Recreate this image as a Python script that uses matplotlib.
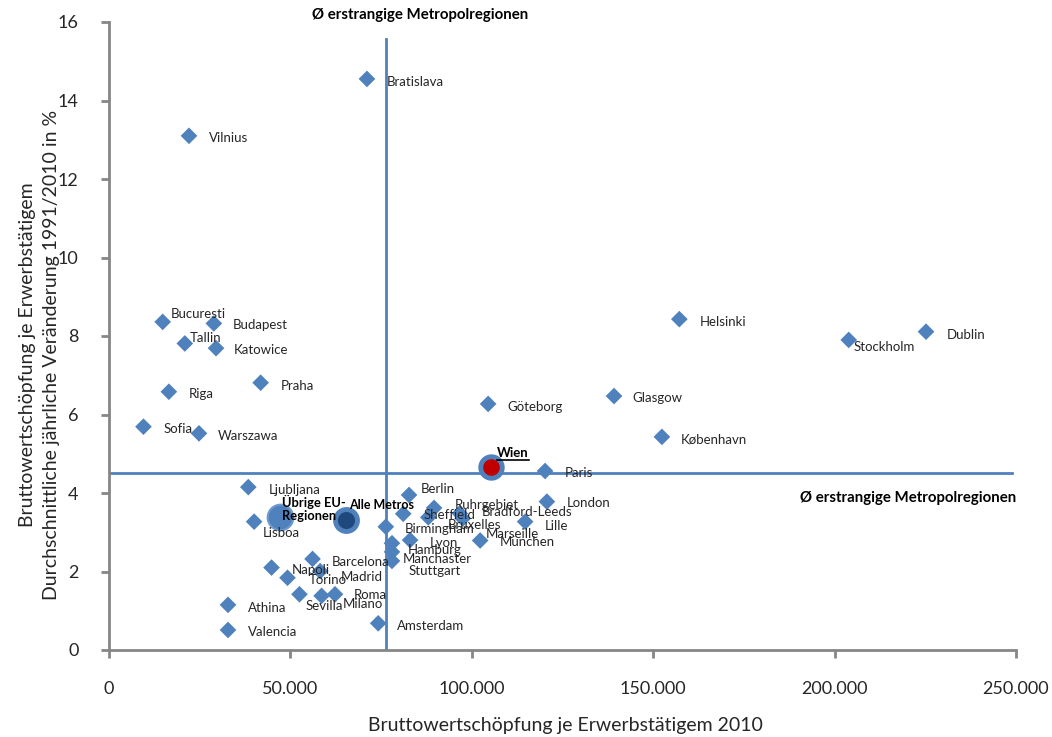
import matplotlib
matplotlib.use("Agg")
import matplotlib.pyplot as plt
from matplotlib.ticker import FuncFormatter
from matplotlib.lines import Line2D

# ---- data -------------------------------------------------------------
cities = [
    "Bratislava", "Vilnius", "Bucuresti", "Budapest", "Tallin", "Katowice",
    "Riga", "Praha", "Sofia", "Warszawa", "Helsinki", "Stockholm", "Dublin",
    "Glasgow", "København", "Göteborg", "Paris", "London", "Lille", "Berlin",
    "Ruhrgebiet", "Bradford-Leeds", "Sheffield", "Bruxelles", "Marseille",
    "München", "Birmingham", "Lyon", "Hamburg", "Manchaster", "Stuttgart",
    "Amsterdam", "Barcelona", "Napoli", "Torino", "Madrid", "Sevilla",
    "Milano", "Roma", "Athina", "Valencia", "Ljubljana", "Lisboa",
]
gva_2010 = [
    71100, 22050, 14800, 28900, 20900, 29500,
    16500, 41800, 9500, 24800, 157200, 203900, 225200,
    139200, 152400, 104500, 120200, 120700, 114700, 82700,
    89600, 96700, 81100, 88000, 97500,
    102300, 76300, 83000, 78000, 78000, 78000,
    74200, 56100, 44800, 49200, 58200, 52500,
    58600, 62300, 32800, 32800, 38400, 40000,
]
growth = [
    14.55, 13.10, 8.36, 8.32, 7.81, 7.69,
    6.58, 6.81, 5.69, 5.52, 8.43, 7.90, 8.11,
    6.47, 5.43, 6.27, 4.56, 3.78, 3.27, 3.95,
    3.62, 3.48, 3.47, 3.38, 3.35,
    2.79, 3.14, 2.80, 2.72, 2.50, 2.27,
    0.68, 2.32, 2.10, 1.84, 2.01, 1.42,
    1.38, 1.42, 1.15, 0.51, 4.15, 3.27,
]

group_names = ["Übrige EU-\nRegionen", "Alle Metros"]
group_gva = [47100, 65300]
group_growth = [3.40, 3.31]

vienna_name = "Wien"
vienna_gva = 105300
vienna_growth = 4.66

mean_gva = 76300
mean_growth = 4.5
mean_label = "Ø erstrangige Metropolregionen"

x_ticks = [0, 50000, 100000, 150000, 200000, 250000]
y_ticks = [0, 2, 4, 6, 8, 10, 12, 14, 16]

# ---- label placement (pixel offsets from each marker) -----------------
label_offsets = {
    "Bratislava": (20, -3), "Vilnius": (20, -2), "Bucuresti": (8, 8),
    "Budapest": (19, -2), "Tallin": (5, 5), "Katowice": (18, -2),
    "Riga": (20, -2), "Praha": (20, -3), "Sofia": (20, -2),
    "Warszawa": (19, -3), "Helsinki": (20, -3), "Stockholm": (5, -7),
    "Dublin": (21, -3), "Glasgow": (18, -2), "København": (19, -3),
    "Göteborg": (19, -3), "Paris": (20, -2), "London": (20, -1),
    "Lille": (20, -4), "Berlin": (12, 6), "Ruhrgebiet": (21, 3),
    "Bradford-Leeds": (22, 1), "Sheffield": (20, -1), "Bruxelles": (19, -8),
    "Marseille": (23, -15), "München": (20, -2), "Birmingham": (19, -2),
    "Lyon": (20, -3), "Hamburg": (16, -7), "Manchaster": (11, -7),
    "Stuttgart": (17, -10), "Amsterdam": (19, -3), "Barcelona": (19, -3),
    "Napoli": (20, -2), "Torino": (21, -2), "Madrid": (21, -6),
    "Sevilla": (6, -12), "Milano": (21, -8), "Roma": (19, -1),
    "Athina": (20, -3), "Valencia": (20, -2), "Ljubljana": (20, -3),
    "Lisboa": (9, -11),
}

BLUE = "#4F81BD"
NAVY = "#1F497D"
RED = "#C00000"
GREY = "#868686"
TEXT = "#262626"

plt.rcParams["font.family"] = ["Lato", "DejaVu Sans"]

fig = plt.figure(figsize=(10.52, 7.37), dpi=100)
ax = fig.add_axes([109 / 1052, 1 - 650 / 737, (1016 - 109) / 1052, (650 - 22) / 737])

ax.set_xlim(0, 250000)
ax.set_ylim(0, 16)

# mean lines
ax.plot([0, 249000], [mean_growth, mean_growth], color=BLUE, lw=2, zorder=1)
ax.plot([mean_gva, mean_gva], [0, 15.56], color=BLUE, lw=2, zorder=1)

# metro regions
ax.scatter(gva_2010, growth, marker="D", s=72, color=BLUE, edgecolor="none", zorder=3)
for name, gx, gy in zip(cities, gva_2010, growth):
    dx, dy = label_offsets[name]
    ax.annotate(name, (gx, gy), xytext=(dx, dy), textcoords="offset pixels",
                ha="left", va="center", fontsize=9.5, color=TEXT, zorder=4)

# aggregate groups
ax.scatter(group_gva[0], group_growth[0], s=340, color=BLUE,
           edgecolor="#6F9AD0", linewidth=1.5, zorder=3)
ax.scatter(group_gva[1], group_growth[1], s=250, color=NAVY,
           edgecolor=BLUE, linewidth=3.5, zorder=3)
ax.annotate(group_names[0], (group_gva[0], group_growth[0]), xytext=(2, 8),
            textcoords="offset pixels", ha="left", va="center", fontsize=9.3,
            fontweight="bold", color="black", linespacing=1.15, zorder=5)
ax.annotate(group_names[1], (group_gva[1], group_growth[1]), xytext=(3, 15),
            textcoords="offset pixels", ha="left", va="center", fontsize=9,
            fontweight="bold", color="black", zorder=5)

# Vienna
ax.scatter(vienna_gva, vienna_growth, s=240, color=RED, edgecolor=BLUE,
           linewidth=3.5, zorder=4)
wien_txt = ax.annotate(vienna_name, (vienna_gva, vienna_growth), xytext=(6, 14),
                       textcoords="offset pixels", ha="left", va="center",
                       fontsize=9.5, fontweight="bold", color="black", zorder=5)

# mean labels
ax.annotate(mean_label, (mean_gva, 16), xytext=(34, 7), textcoords="offset pixels",
            ha="center", va="center", fontsize=10.8, fontweight="bold",
            color="black", annotation_clip=False)
ax.annotate(mean_label, (250000, mean_growth), xytext=(0, -25),
            textcoords="offset pixels", ha="right", va="center",
            fontsize=10.8, fontweight="bold", color="black")

# axes styling
for side in ("top", "right"):
    ax.spines[side].set_visible(False)
for side in ("left", "bottom"):
    ax.spines[side].set_color(GREY)
    ax.spines[side].set_linewidth(2)
ax.set_xticks(x_ticks)
ax.set_yticks(y_ticks)
ax.xaxis.set_major_formatter(FuncFormatter(lambda v, p: f"{int(v):,}".replace(",", ".")))
ax.tick_params(axis="both", direction="out", length=6, width=2, color=GREY,
               labelsize=13, labelcolor=TEXT)
ax.tick_params(axis="x", pad=16)
ax.tick_params(axis="y", pad=16)

fig.text(565 / 1052, 1 - 725 / 737, "Bruttowertschöpfung je Erwerbstätigem 2010",
         ha="center", va="center", fontsize=14, color=TEXT)
fig.text(40 / 1052, 1 - 355 / 737,
         "Bruttowertschöpfung je Erwerbstätigem\n"
         "Durchschnittliche jährliche Veränderung 1991/2010 in %",
         ha="center", va="center", rotation=90, fontsize=14, color=TEXT,
         linespacing=1.5)

# underline the Vienna label
fig.canvas.draw()
bb = wien_txt.get_window_extent()
y_line = bb.y0 - 1
fig.add_artist(Line2D([bb.x0 / fig.bbox.width, bb.x1 / fig.bbox.width],
                      [y_line / fig.bbox.height, y_line / fig.bbox.height],
                      color="black", lw=1.2))

fig.savefig("out.png", dpi=100, facecolor="white")
